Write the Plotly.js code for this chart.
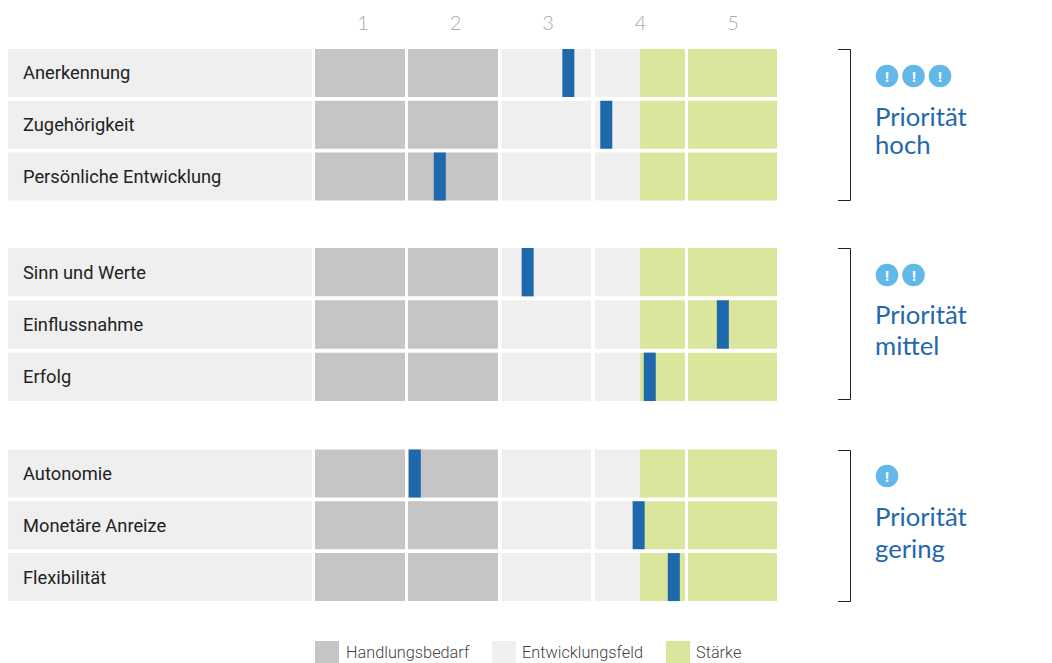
<!DOCTYPE html>
<html><head><meta charset="utf-8">
<script src="https://cdn.plot.ly/plotly-3.0.1.min.js"></script>
<style>html,body{margin:0;padding:0;background:#fff}#c{width:1052px;height:663px}</style>
</head><body><div id="c"></div>
<script>
const groupHigh = ["Anerkennung","Zugehörigkeit","Persönliche Entwicklung"];
const groupMid  = ["Sinn und Werte","Einflussnahme","Erfolg"];
const groupLow  = ["Autonomie","Monetäre Anreize","Flexibilität"];
const valuesHigh = [3.22,3.63,1.83];
const valuesMid  = [2.78,4.89,4.10];
const valuesLow  = [1.56,3.98,4.36];
const priorityWords = ["hoch","mittel","gering"];
const scoreTicks = [1,2,3,4,5];
const bandStarts = [-2.838,0.481,1.486,2.497,3.508,3.995,4.514];
const bandEnds   = [0.449,1.454,2.459,3.465,3.995,4.481,5.476];
const legendNames = ["Handlungsbedarf","Entwicklungsfeld","Stärke"];

const GRAY="#c5c5c5", LIGHT="#efefef", GREEN="#dce59c", BLUE="#1e69ac", SKY="#63b8ea";
const bandColors=[LIGHT,GRAY,GRAY,LIGHT,LIGHT,GREEN,GREEN];
const W=1052,H=663;
const px=p=>p/W, py=p=>1-p/H;
const vOf=p=>1+(p-363)/92.5;
const groups=[
 {cats:groupHigh,vals:valuesHigh,ax:'y',top:47,bot:202.5,word:priorityWords[0],n:3,iconY:76,y1:116,y2:144,bT:49.5,bB:200.5},
 {cats:groupMid,vals:valuesMid,ax:'y2',top:246,bot:403,word:priorityWords[1],n:2,iconY:275,y1:314,y2:345,bT:248.5,bB:399.5},
 {cats:groupLow,vals:valuesLow,ax:'y3',top:447.5,bot:603,word:priorityWords[2],n:1,iconY:476,y1:516,y2:548,bT:450.5,bB:601.5}
];
const traces=[],shapes=[],annotations=[];
const barW=0.925;
groups.forEach(g=>{
  bandStarts.forEach((s,i)=>{
    traces.push({type:'bar',orientation:'h',yaxis:g.ax,y:g.cats,x:g.cats.map(()=>bandEnds[i]-s),base:g.cats.map(()=>s),
      width:barW,marker:{color:bandColors[i],line:{width:0}},hoverinfo:'skip',showlegend:false});
  });
  traces.push({type:'bar',orientation:'h',yaxis:g.ax,y:g.cats,x:g.vals.map(()=>0.13),base:g.vals.map(v=>v-0.065),
      width:barW,marker:{color:BLUE,line:{width:0}},hoverinfo:'skip',showlegend:false});
  g.cats.forEach(c=>annotations.push({xref:'x',yref:g.ax,x:vOf(23),y:c,text:c,showarrow:false,xanchor:'left',yanchor:'middle',xshift:-2,
      font:{family:'Roboto',size:18.3,color:'#222'}}));
  shapes.push({type:'path',xref:'paper',yref:'paper',
    path:`M ${px(838)} ${py(g.bT)} L ${px(850.5)} ${py(g.bT)} L ${px(850.5)} ${py(g.bB)} L ${px(838)} ${py(g.bB)}`,
    line:{color:'#222',width:1}});
  const xs=[887,913.5,940];
  for(let i=0;i<g.n;i++){
    shapes.push({type:'circle',xref:'paper',yref:'paper',x0:px(xs[i]-11.3),x1:px(xs[i]+11.3),y0:py(g.iconY+11.3),y1:py(g.iconY-11.3),
      fillcolor:SKY,line:{width:0}});
    annotations.push({xref:'paper',yref:'paper',x:px(xs[i]),y:py(g.iconY),text:'<b>!</b>',showarrow:false,xanchor:'center',yanchor:'middle',
      font:{family:'Open Sans',size:14,color:'#fff'}});
  }
  annotations.push({xref:'paper',yref:'paper',x:px(875),y:py(g.y1),text:'Priorität',showarrow:false,xanchor:'left',yanchor:'middle',xshift:-2,
      font:{family:'Lato',size:25.7,color:BLUE}});
  annotations.push({xref:'paper',yref:'paper',x:px(875),y:py(g.y2),text:g.word,showarrow:false,xanchor:'left',yanchor:'middle',xshift:-2,
      font:{family:'Lato',size:25.7,color:BLUE}});
});
const legendX=[[315,346],[492,522],[666,696]];
const legendColors=[GRAY,LIGHT,GREEN];
legendNames.forEach((n,i)=>{
  shapes.push({type:'rect',xref:'paper',yref:'paper',x0:px(legendX[i][0]),x1:px(legendX[i][0]+24),y0:py(663),y1:py(641),fillcolor:legendColors[i],line:{width:0}});
  annotations.push({xref:'paper',yref:'paper',x:px(legendX[i][1]),y:py(652),text:n,showarrow:false,xanchor:'left',yanchor:'middle',xshift:-2,
      font:{family:'Roboto',size:16.3,weight:300,color:'#444'}});
});
const yax=g=>({type:'category',categoryorder:'array',categoryarray:g.cats,range:[2.5,-0.5],autorange:false,domain:[py(g.bot),py(g.top)],
  showticklabels:false,showgrid:false,zeroline:false,showline:false,ticks:'',fixedrange:true,anchor:'x'});
const layout={width:W,height:H,margin:{l:0,r:0,t:0,b:0},paper_bgcolor:'#fff',plot_bgcolor:'rgba(0,0,0,0)',
  barmode:'overlay',showlegend:false,
  xaxis:{range:[vOf(0),vOf(W)],domain:[0,1],side:'top',anchor:'y',tickmode:'array',tickvals:scoreTicks,ticktext:scoreTicks.map(String),
    showgrid:false,zeroline:false,showline:false,ticks:'',ticklabelstandoff:12,tickfont:{family:'Lato',size:20,weight:300,color:'#aaa'},fixedrange:true},
  yaxis:yax(groups[0]),yaxis2:yax(groups[1]),yaxis3:yax(groups[2]),
  shapes,annotations,hovermode:false};
Plotly.newPlot('c',traces,layout,{displayModeBar:false,staticPlot:true});
</script></body></html>
